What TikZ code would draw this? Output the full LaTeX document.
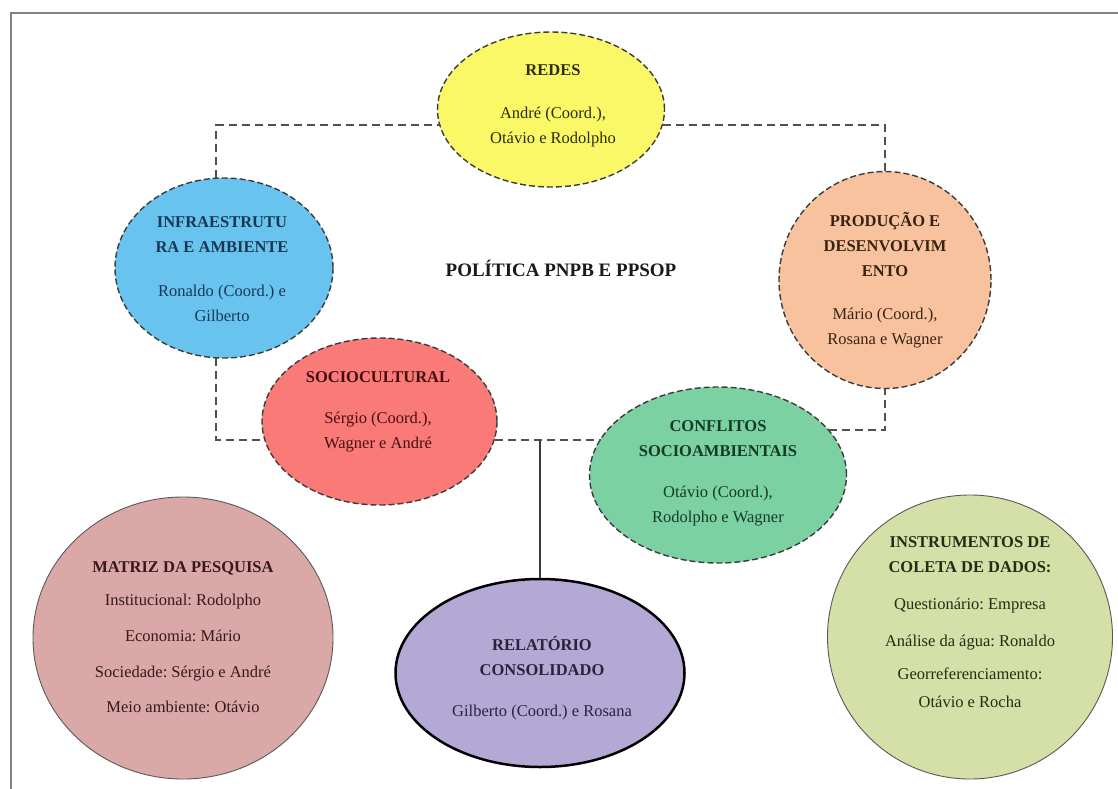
\documentclass[tikz,border=0pt]{standalone}
\usepackage{fontspec}
\setmainfont{Liberation Serif}
\usetikzlibrary{shapes.geometric}
\frenchspacing
\definecolor{framegray}{RGB}{128,128,128}
\definecolor{conngray}{RGB}{80,80,80}
\definecolor{edgegray}{RGB}{60,60,60}
\definecolor{yelF}{RGB}{250,248,102}
\definecolor{bluF}{RGB}{104,196,238}
\definecolor{oraF}{RGB}{249,194,158}
\definecolor{redF}{RGB}{250,122,120}
\definecolor{greF}{RGB}{124,209,163}
\definecolor{purF}{RGB}{180,168,212}
\definecolor{matF}{RGB}{219,168,168}
\definecolor{insF}{RGB}{212,224,168}
\definecolor{yelT}{RGB}{45,45,10}
\definecolor{bluT}{RGB}{25,55,85}
\definecolor{oraT}{RGB}{55,35,20}
\definecolor{redT}{RGB}{70,15,15}
\definecolor{greT}{RGB}{20,60,35}
\definecolor{purT}{RGB}{40,35,60}
\definecolor{matT}{RGB}{55,25,25}
\definecolor{insT}{RGB}{35,45,20}
\begin{document}
\begin{tikzpicture}[x=1pt,y=-1pt,
  area/.style={ellipse, inner sep=0pt, draw=edgegray, line width=1.4pt, dash pattern=on 6pt off 3pt},
  plainarea/.style={ellipse, inner sep=0pt, draw=edgegray!85, line width=0.9pt},
  conn/.style={draw=conngray, line width=1.6pt, dash pattern=on 8pt off 5pt},
  solidconn/.style={draw=edgegray, line width=2pt},
  lbl/.style={align=center, font=\fontsize{16.5}{25}\selectfont, inner sep=0pt},
]
\useasboundingbox (0,0) rectangle (1118,789);
\fill[white] (0,0) rectangle (1118,789);
\draw[framegray, line width=2.2pt] (11,789) -- (11,13) -- (1118,13);

% shapes
\node[area, fill=yelF, minimum width=227pt, minimum height=155pt] (redes) at (551,109.5) {};
\node[area, fill=bluF, minimum width=218pt, minimum height=180pt] (infra) at (224,268) {};
\node[area, fill=oraF, minimum width=212pt, minimum height=217pt] (prod) at (885,280) {};
\node[area, fill=redF, minimum width=235pt, minimum height=167pt] (socio) at (379.5,421.5) {};
\node[area, fill=greF, minimum width=257pt, minimum height=176pt] (conf) at (718,475) {};
\node[ellipse, inner sep=0pt, draw=black, line width=2.5pt, fill=purF, minimum width=289pt, minimum height=188pt] (rel) at (540,673) {};
\node[plainarea, fill=matF, minimum width=300pt, minimum height=282pt] (matriz) at (183,638) {};
\node[plainarea, fill=insF, minimum width=285pt, minimum height=284pt] (instr) at (970,637) {};

% connectors
\draw[conn] (infra.95) |- (redes.188);
\draw[conn] (redes.352) -| (prod.north);
\draw[conn] (infra.265) |- (socio.189);
\draw[conn] (socio.351) -- (socio.351 -| conf.162);
\draw[conn] (conf.22) -| (prod.south);
\draw[solidconn] (socio.351 -| rel.north) -- (rel.north);

% texts
\node[lbl, text=yelT] (redesT) at (553,106) {\textbf{REDES}\\[18pt]André (Coord.),\\Otávio e Rodolpho};
\node[lbl, text=bluT] (infraT) at (222,269.5) {\textbf{INFRAESTRUTU}\\\textbf{RA E AMBIENTE}\\[19pt]Ronaldo (Coord.) e\\Gilberto};
\node[lbl, text=oraT] (prodT) at (885,280) {\textbf{PRODUÇÃO E}\\\textbf{DESENVOLVIM}\\\textbf{ENTO}\\[18pt]Mário (Coord.),\\Rosana e Wagner};
\node[lbl, text=redT] (socioT) at (378,411.5) {\textbf{SOCIOCULTURAL}\\[16pt]Sérgio (Coord.),\\Wagner e André};
\node[lbl, text=greT] (confT) at (718,473.5) {\textbf{CONFLITOS}\\\textbf{SOCIOAMBIENTAIS}\\[16pt]Otávio (Coord.),\\Rodolpho e Wagner};
\node[lbl, text=purT] (relT) at (542,678.5) {\textbf{RELATÓRIO}\\\textbf{CONSOLIDADO}\\[16pt]Gilberto (Coord.) e Rosana};
\node[lbl, text=matT] (matrizT) at (183,637.5) {\textbf{MATRIZ DA PESQUISA}\\[8pt]Institucional: Rodolpho\\[11pt]Economia: Mário\\[11pt]Sociedade: Sérgio e André\\[10pt]Meio ambiente: Otávio};
\node[lbl, text=insT] (instrT) at (970,622.5) {\textbf{INSTRUMENTOS DE}\\\textbf{COLETA DE DADOS:}\\[12pt]Questionário: Empresa\\[12pt]Análise da água: Ronaldo\\[8pt]Georreferenciamento:\\[3pt]Otávio e Rocha};
\node[lbl, font=\fontsize{19}{23}\selectfont\bfseries, text=black!90] (pol) at (561,268) {POLÍTICA PNPB E PPSOP};
\end{tikzpicture}
\end{document}
